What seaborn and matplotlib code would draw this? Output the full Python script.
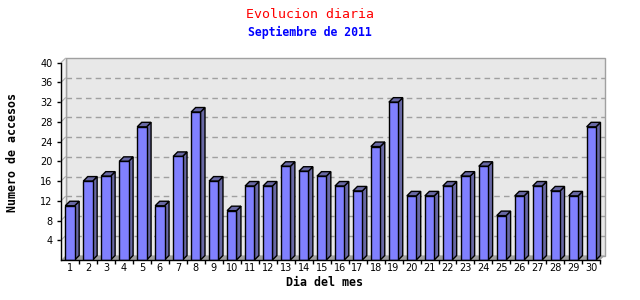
import matplotlib
matplotlib.use('Agg')
import matplotlib.pyplot as plt
import seaborn as sns
import numpy as np
import pandas as pd
from matplotlib.patches import Polygon
from matplotlib.transforms import offset_copy, IdentityTransform

# ---- data ----
days = [str(d) for d in range(1, 31)]
visits = [11, 16, 17, 20, 27, 11, 21, 30, 16, 10, 15, 15, 19, 18, 17,
          15, 14, 23, 32, 13, 13, 15, 17, 19, 9, 13, 15, 14, 13, 27]
y_ticks = [4, 8, 12, 16, 20, 24, 28, 32, 36, 40]
title = "Evolucion diaria"
subtitle = "Septiembre de 2011"
x_label = "Dia del mes"
y_label = "Numero de accesos"

df = pd.DataFrame({"dia": days, "accesos": visits})

sns.set_theme(style="white")
plt.rcParams['font.family'] = ['DejaVu Sans']

W, H = 640, 300
fig = plt.figure(figsize=(W / 100, H / 100), dpi=100)
ax = fig.add_axes([61 / W, 40 / H, (600.3 - 61) / W, 197.3 / H])
ax.set_facecolor('none')
ax.set_xlim(-0.5, len(days) - 0.5)
ax.set_ylim(0, 40)

D = 4.5  # depth in pixels
back = offset_copy(ax.transData, fig=fig, x=D, y=D, units='dots')

def px(x, y):
    return ax.transData.transform((x, y))

x0, x1 = -0.5, len(days) - 0.5
# back wall
p = [px(x0, 0), px(x1, 0), px(x1, 40), px(x0, 40)]
ax.add_patch(Polygon([pt + D for pt in p], closed=True, transform=IdentityTransform(),
                     facecolor='#E8E8E8', edgecolor='#A0A0A0', lw=1, zorder=0, clip_on=False))
# left side wall
p = [px(x0, 0), px(x0, 40), px(x0, 40) + D, px(x0, 0) + D]
ax.add_patch(Polygon(p, closed=True, transform=IdentityTransform(),
                     facecolor='#F2F2F2', edgecolor='none', zorder=0, clip_on=False))
ax.plot([px(x0, 0)[0] + D] * 2, [px(x0, 0)[1] + D, px(x0, 40)[1] + D],
        transform=IdentityTransform(), color='#A0A0A0', lw=1, zorder=0.5, clip_on=False)
# floor
p = [px(x0, 0), px(x1, 0), px(x1, 0) + D, px(x0, 0) + D]
ax.add_patch(Polygon(p, closed=True, transform=IdentityTransform(),
                     facecolor='#A0A0A0', edgecolor='none', zorder=0.6, clip_on=False))
# grid lines on back wall
ax.hlines(y_ticks[:-1], x0, x1, transform=back, colors='#A0A0A0',
          linestyles=(0, (4, 3)), lw=1, zorder=0.7, clip_on=False)
# diagonal connectors on the side wall
for yv in y_ticks:
    a = px(x0, yv)
    ax.plot([a[0], a[0] + D], [a[1], a[1] + D], transform=IdentityTransform(),
            color='#B0B0B0', lw=0.8, zorder=0.7, clip_on=False)

# front faces of bars
sns.barplot(data=df, x="dia", y="accesos", color='#8080FF', saturation=1,
            width=0.52, edgecolor='black', linewidth=1, ax=ax, zorder=2)

dark = '#6868A4'
for bar in ax.patches:
    if not hasattr(bar, 'get_width') or bar.get_zorder() != 2:
        continue
    bx = bar.get_x(); bw = bar.get_width(); bh = bar.get_height()
    a0 = px(bx, bh); a1 = px(bx + bw, bh); b1 = px(bx + bw, 0)
    side = [b1, a1, a1 + D, b1 + D]
    top = [a0, a1, a1 + D, a0 + D]
    ax.add_patch(Polygon(side, closed=True, transform=IdentityTransform(),
                         facecolor=dark, edgecolor='black', lw=1, zorder=1.9, clip_on=False))
    ax.add_patch(Polygon(top, closed=True, transform=IdentityTransform(),
                         facecolor=dark, edgecolor='black', lw=1, zorder=1.9, clip_on=False))

# axes
for s in ['top', 'right']:
    ax.spines[s].set_visible(False)
for s in ['left', 'bottom']:
    ax.spines[s].set_color('black')
    ax.spines[s].set_linewidth(1)
    ax.spines[s].set_zorder(3)
ax.set_yticks(y_ticks)
ax.set_yticklabels([str(v) for v in y_ticks])
ax.set_xticks(range(len(days)))
ax.set_xticklabels(days)
ax.set_xticks(np.arange(0.5, len(days) - 0.5 + 0.01, 1), minor=True)
ax.tick_params(axis='y', which='major', left=True, length=3, width=1, color='black',
               pad=3, labelsize=7, labelcolor='black')
ax.tick_params(axis='x', which='major', bottom=False, length=0, pad=2.5,
               labelsize=7, labelcolor='black')
ax.tick_params(axis='x', which='minor', bottom=True, length=3, width=1, color='black')
ax.set_xlabel('')
ax.set_ylabel('')
ax.grid(False)

mono = ['DejaVu Sans Mono']
fig.text(310 / W, 1 - 14 / H, title, color='#FF0000', family=mono, fontsize=9.5,
         ha='center', va='center')
fig.text(310 / W, 1 - 32 / H, subtitle, color='#0000FF', family=mono, fontsize=8.3,
         fontweight='bold', ha='center', va='center')
fig.text(324 / W, 1 - 282 / H, x_label, color='black', family=mono, fontsize=8.4,
         fontweight='bold', ha='center', va='center')
fig.text(13 / W, 1 - 153 / H, y_label, color='black', family=mono, fontsize=8.4,
         fontweight='bold', ha='center', va='center', rotation=90)

fig.savefig('out.png', dpi=100, facecolor='white')
